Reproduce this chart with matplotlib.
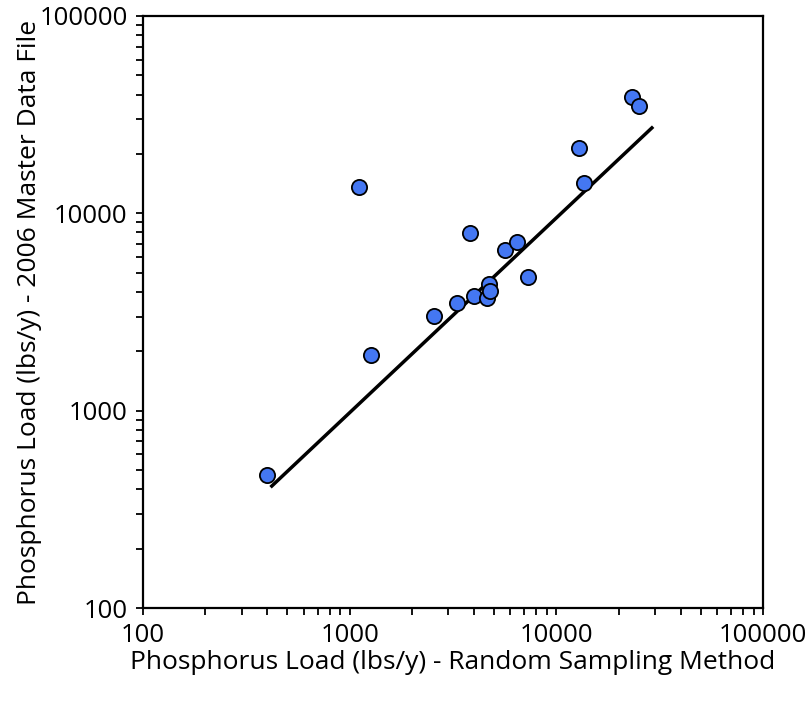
import matplotlib
matplotlib.use('Agg')
import matplotlib.pyplot as plt
from matplotlib.ticker import LogLocator, FixedLocator, FixedFormatter, NullFormatter

plt.rcParams['font.family'] = ['Open Sans', 'DejaVu Sans']

# Phosphorus loads (lbs/y): random sampling method vs 2006 master data file
random_sampling = [398, 1109, 1268, 2558, 3306, 3820, 3990, 4616, 4720, 4775,
                   5640, 6450, 7290, 12850, 13600, 23200, 25100]
master_file = [472, 13600, 1915, 3020, 3515, 7960, 3810, 3725, 4385, 4045,
               6510, 7160, 4760, 21400, 14260, 38900, 35000]

# fitted line end points
fit_x = [420, 29000]
fit_y = [415, 27100]

ticks = [100, 1000, 10000, 100000]
tick_labels = ['100', '1000', '10000', '100000']

fig = plt.figure(figsize=(8.11, 7.07), dpi=100)
ax = fig.add_axes([0.1763, 0.140, 0.7645, 0.8374])

ax.plot(fit_x, fit_y, color='black', linewidth=2.5, zorder=2)
ax.scatter(random_sampling, master_file, s=120, color='#4477f2',
           edgecolor='black', linewidth=1.3, zorder=3)

ax.set_xscale('log')
ax.set_yscale('log')
ax.set_xlim(100, 100000)
ax.set_ylim(100, 100000)

for axis in (ax.xaxis, ax.yaxis):
    axis.set_major_locator(FixedLocator(ticks))
    axis.set_major_formatter(FixedFormatter(tick_labels))
    axis.set_minor_locator(LogLocator(base=10, subs=range(2, 10)))
    axis.set_minor_formatter(NullFormatter())

ax.tick_params(which='both', direction='out', length=5, width=1.3,
               labelsize=18.5, pad=6)
for sp in ax.spines.values():
    sp.set_linewidth(1.6)

ax.set_xlabel('Phosphorus Load (lbs/y) - Random Sampling Method', fontsize=19, labelpad=1)
ax.set_ylabel('Phosphorus Load (lbs/y) - 2006 Master Data File', fontsize=19, labelpad=-2)

fig.savefig('out.png', dpi=100)
